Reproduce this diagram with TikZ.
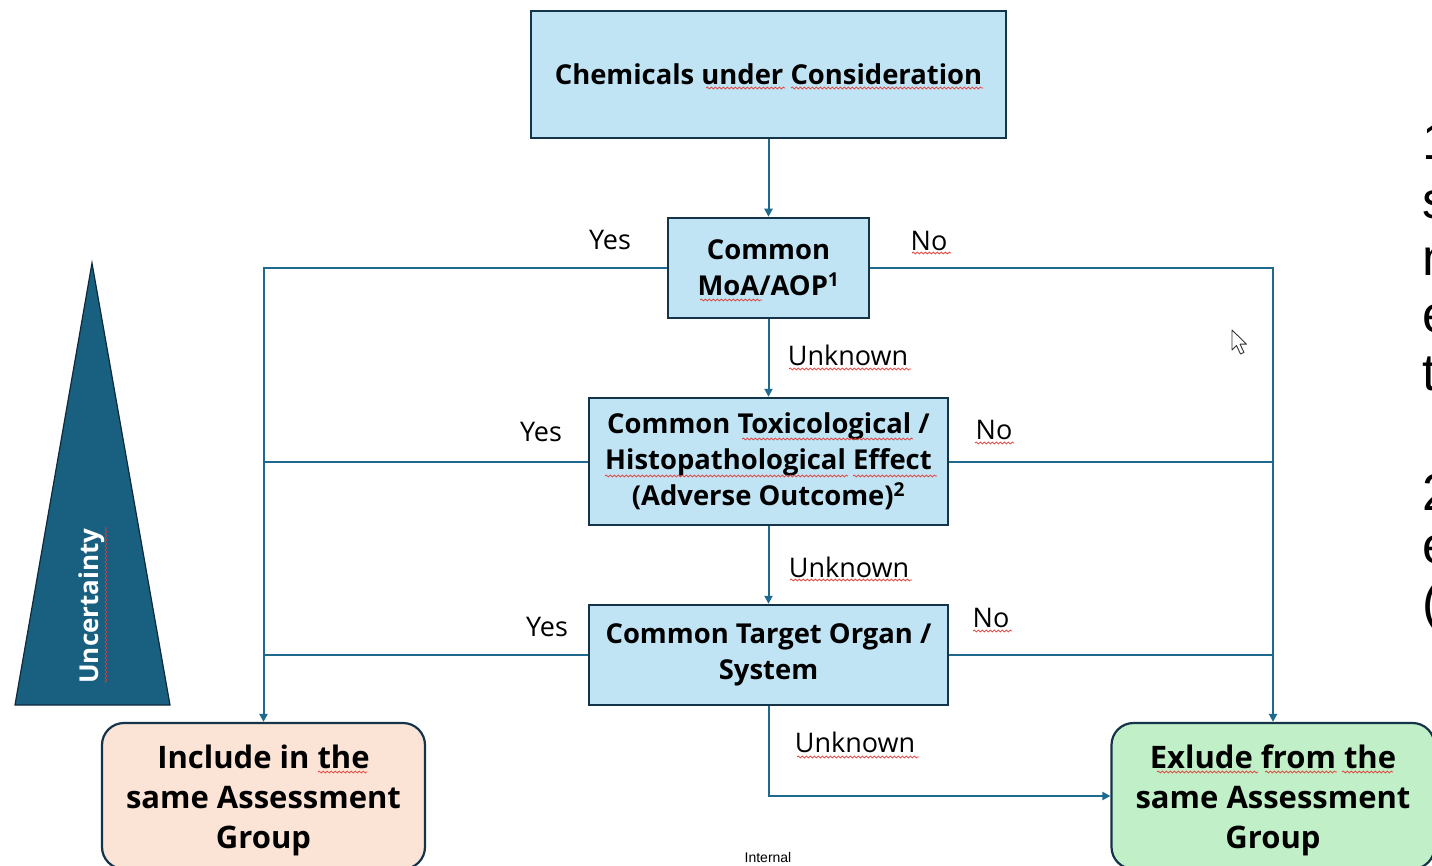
\documentclass[tikz,border=0pt]{standalone}
\usepackage{fontspec}
\setmainfont{Open Sans}
\newfontfamily\arialfont{Liberation Sans}
\usetikzlibrary{arrows.meta,decorations.pathmorphing}

\definecolor{boxblue}{HTML}{C1E4F5}
\definecolor{boxedge}{HTML}{14344A}
\definecolor{wirecol}{HTML}{1E6A8E}
\definecolor{peach}{HTML}{FBE3D6}
\definecolor{mint}{HTML}{C1F0C8}
\definecolor{cone}{HTML}{185F80}
\definecolor{squig}{HTML}{E53935}

\tikzset{
  decision/.style={draw=boxedge, line width=2.5pt, fill=boxblue, align=center,
    inner sep=0pt, font=\bfseries\fontsize{27.4}{36}\selectfont},
  outcome/.style={draw=boxedge, line width=2.2pt, rounded corners=22pt, align=center,
    inner sep=0pt, font=\bfseries\fontsize{31}{40}\selectfont,
    minimum width=323pt, minimum height=146pt},
  wire/.style={draw=wirecol, line width=2pt},
  flow/.style={wire, -{Triangle[length=8pt,width=8pt]}},
  lbl/.style={font=\fontsize{27}{28}\selectfont, inner sep=0pt},
  spell/.style={draw=squig, line width=0.7pt, decorate,
    decoration={snake, segment length=4pt, amplitude=1pt}},
  edgetext/.style={anchor=base west, inner sep=0pt, font=\arialfont\fontsize{52}{52}\selectfont}
}

\begin{document}
\begin{tikzpicture}[x=1pt,y=-1pt]
\useasboundingbox (0,0) rectangle (1432,866);
\fill[white] (0,0) rectangle (1432,866);

% uncertainty wedge
\draw[fill=cone, draw=boxedge!80!black, line width=1.2pt, line join=miter]
  (92,263) -- (170,705) -- (15,705) -- cycle;
\node[rotate=90, text=white, font=\bfseries\fontsize{26}{28}\selectfont, inner sep=0pt]
  (unc) at (92,606) {Uncertainty};
\draw[spell] (106,683) -- (106,527);

% decision boxes
\node[decision, minimum width=475pt, minimum height=127pt] (top) at (768.5,74.5)
  {Chemicals under Consideration};
\node[decision, minimum width=201pt, minimum height=100pt] (moa) at (768.5,268)
  {Common\\MoA/AOP\textsuperscript{1}};
\node[decision, minimum width=359pt, minimum height=127pt] (tox) at (768.5,461.5)
  {Common Toxicological /\\Histopathological Effect\\(Adverse Outcome)\textsuperscript{2}};
\node[decision, minimum width=359pt, minimum height=100pt] (organ) at (768.5,655)
  {Common Target Organ /\\System};

% outcome boxes
\node[outcome, fill=peach] (inc) at (263.5,796) {\\[-8pt]Include in the\\same Assessment\\Group};
\node[outcome, fill=mint] (exc) at (1273,796) {\\[-8pt]Exlude from the\\same Assessment\\Group};

% connectors
\draw[flow] (top.south) -- (moa.north);
\draw[flow] (moa.south) -- (tox.north);
\draw[flow] (tox.south) -- (organ.north);
\draw[flow] (moa.west) -| (inc.north);
\draw[flow] (moa.east) -| (exc.north);
\draw[wire] (tox.west) -- (tox.west -| inc.north);
\draw[wire] (tox.east) -- (tox.east -| exc.north);
\draw[wire] (organ.west) -- (organ.west -| inc.north);
\draw[wire] (organ.east) -- (organ.east -| exc.north);
\draw[flow] (organ.south) |- (exc.west);

% branch labels
\node[lbl] (y1) at (610,240) {Yes};
\node[lbl] (n1) at (929,241) {No};
\node[lbl] (u1) at (848,355) {Unknown};
\node[lbl] (y2) at (541,432) {Yes};
\node[lbl] (n2) at (994,430) {No};
\node[lbl] (u2) at (849,567) {Unknown};
\node[lbl] (y3) at (547,627) {Yes};
\node[lbl] (n3) at (991,618) {No};
\node[lbl] (u3) at (855,742) {Unknown};

% spell-check underlines
\draw[spell] (706,88) -- (785,88);
\draw[spell] (791,88) -- (983,88);
\draw[spell] (700,300) -- (762,300);
\draw[spell] (912,253) -- (951,253);
\draw[spell] (789,369) -- (911,369);
\draw[spell] (742,439) -- (913,439);
\draw[spell] (605,476) -- (848,476);
\draw[spell] (853,476) -- (937,476);
\draw[spell] (975,443) -- (1014,443);
\draw[spell] (790,580) -- (912,580);
\draw[spell] (973,631) -- (1012,631);
\draw[spell] (797,757) -- (919,757);
\draw[spell] (318,772) -- (367,772);
\draw[spell] (1157,772) -- (1258,772);
\draw[spell] (1265,772) -- (1337,772);
\draw[spell] (1342,772) -- (1393,772);

% mouse pointer
\draw[fill=white, draw=black!80, line width=0.9pt, line join=round]
  (1232,330) -- ++(0,20) -- ++(4.5,-4.5) -- ++(4,8.5) -- ++(3.5,-1.6)
  -- ++(-4,-8.2) -- ++(6.5,0) -- cycle;

% footer
\node[font=\arialfont\fontsize{14}{16}\selectfont, inner sep=0pt] (foot) at (768,857) {Internal};

% notes running off the right edge
\node[edgetext] (e1) at (1422,160) {1};
\node[edgetext] (e2) at (1422,219) {s};
\node[edgetext] (e3) at (1422,276) {n};
\node[edgetext] (e4) at (1422,333) {e};
\node[edgetext] (e5) at (1422,390) {t};
\node[edgetext] (e6) at (1422,510) {2};
\node[edgetext] (e7) at (1422,563) {e};
\node[edgetext] (e8) at (1422,620) {(};
\end{tikzpicture}
\end{document}
